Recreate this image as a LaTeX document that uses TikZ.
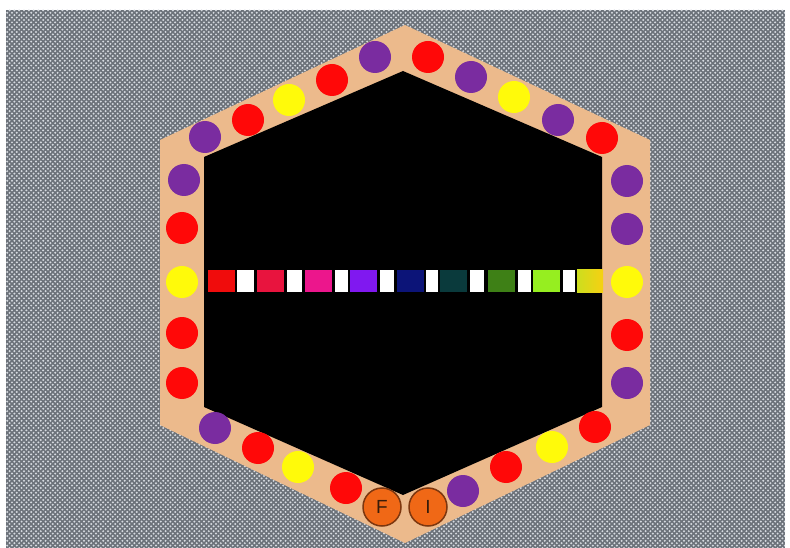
\documentclass[tikz,border=0pt]{standalone}
\usepackage{fontspec}
\setsansfont{Liberation Sans}
\usetikzlibrary{patterns.meta}

\definecolor{backdrop}{RGB}{108,114,122}
\definecolor{pebble}{RGB}{214,218,224}
\definecolor{board}{RGB}{236,186,140}
\definecolor{bred}{RGB}{255,8,8}
\definecolor{bpurple}{RGB}{122,44,160}
\definecolor{byellow}{RGB}{255,250,10}
\definecolor{coin}{RGB}{240,104,22}
\definecolor{coinrim}{RGB}{125,55,15}
\definecolor{coinink}{RGB}{55,28,10}
\definecolor{sred}{RGB}{240,12,12}
\definecolor{scrimson}{RGB}{232,20,62}
\definecolor{spink}{RGB}{236,22,140}
\definecolor{sviolet}{RGB}{128,24,240}
\definecolor{snavy}{RGB}{12,20,120}
\definecolor{steal}{RGB}{10,58,60}
\definecolor{sgreen}{RGB}{62,128,22}
\definecolor{slime}{RGB}{150,238,32}
\definecolor{sgoldA}{RGB}{205,222,30}
\definecolor{sgoldB}{RGB}{246,208,18}

\tikzdeclarepattern{
  name=pebbles,
  type=uncolored,
  bounding box={(-1.5pt,-1.5pt) and (4.5pt,4.5pt)},
  tile size={(4.8pt,4.8pt)},
  code={
    \fill (0pt,0pt) circle (1.1pt);
    \fill (2.4pt,2.4pt) circle (1.1pt);
  }
}

\begin{document}
\begin{tikzpicture}[x=1pt,y=-1pt,
  bead/.style={circle, minimum size=32pt, inner sep=0pt},
  coinbox/.style={circle, minimum size=38pt, inner sep=0pt, fill=coin,
    draw=coinrim, line width=1.5pt, text=coinink,
    font=\sffamily\fontsize{19}{19}\selectfont}]
  \useasboundingbox (0,0) rectangle (790,548);
  % backdrop
  \fill[backdrop] (6,10) rectangle (785,548);
  \fill[pattern=pebbles, pattern color=pebble] (6,10) rectangle (785,548);

  % board
  \fill[board] (405,25) -- (650,140) -- (650,425) -- (405,543)
    -- (160,425) -- (160,140) -- cycle;
  \fill[black] (403,71) -- (602,157) -- (602,407) -- (403,495)
    -- (204,407) -- (204,157) -- cycle;

  % colour strip
  \foreach \x/\c in {208/sred, 257/scrimson, 305/spink, 350/sviolet,
                     397/snavy, 440/steal, 488/sgreen, 533/slime}
    \fill[\c] (\x,270) rectangle ++(27,22);
  \shade[left color=sgoldA, right color=sgoldB] (577,270) rectangle ++(26,22);
  \foreach \x/\w in {237/17, 287/15, 335/13, 380/14, 426/12, 470/14, 518/13, 563/12}
    \fill[white] (\x,270) rectangle ++(\w,22);

  % beads
  \foreach \x/\y/\c [count=\i] in {
      184/180/bpurple, 182/228/bred, 182/282/byellow, 182/333/bred, 182/383/bred,
      205/137/bpurple, 248/120/bred, 289/100/byellow, 332/80/bred, 375/57/bpurple,
      428/57/bred, 471/77/bpurple, 514/97/byellow, 558/120/bpurple, 602/138/bred,
      627/181/bpurple, 627/229/bpurple, 627/282/byellow, 627/335/bred, 627/383/bpurple,
      595/427/bred, 552/447/byellow, 506/467/bred, 463/491/bpurple,
      215/428/bpurple, 258/448/bred, 298/467/byellow, 346/488/bred}
    \node[bead, fill=\c] (b\i) at (\x,\y) {};

  % start and finish
  \node[coinbox] (fin) at (382,507) {F};
  \node[coinbox] (ini) at (428,507) {I};
\end{tikzpicture}
\end{document}
